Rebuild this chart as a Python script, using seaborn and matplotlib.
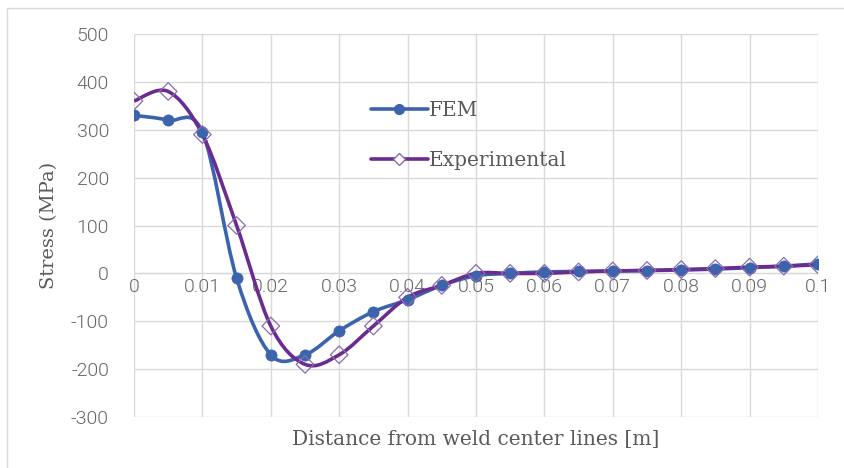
"""Stress profile: FEM vs experimental"""
import numpy as np
import pandas as pd
import matplotlib
matplotlib.use("Agg")
import matplotlib.pyplot as plt
from matplotlib.path import Path
from matplotlib.patches import PathPatch, Rectangle
from matplotlib.lines import Line2D
import seaborn as sns

# data
distance = [0.0, 0.005, 0.01, 0.015, 0.02, 0.025, 0.03, 0.035, 0.04, 0.045, 0.05,
            0.055, 0.06, 0.065, 0.07, 0.075, 0.08, 0.085, 0.09, 0.095, 0.1]
fem = [330, 320, 295, -10, -170, -170, -120, -80, -55, -25, -5,
       0, 3, 4, 5, 6, 7, 9, 12, 15, 20]
experimental = [360, 380, 290, 100, -110, -190, -170, -110, -50, -25, 0,
                0, 0, 3, 5, 6, 8, 10, 13, 15, 18]
x_ticklabels = ["0", "0.01", "0.02", "0.03", "0.04", "0.05", "0.06", "0.07", "0.08", "0.09", "0.1"]

C_FEM = "#3b64ad"
C_EXP = "#6b2c91"
C_EXP_MK = "#8a6bb0"
GRID = "#d9d9d9"
TICK = "#595959"


def smooth_path(x, y):
    # excel-style smoothed line: catmull-rom segments as cubic bezier
    pts = np.column_stack([x, y]).astype(float)
    ext = np.vstack([pts[0], pts, pts[-1]])
    verts = [pts[0]]
    codes = [Path.MOVETO]
    for i in range(1, len(ext) - 2):
        p0, p1, p2, p3 = ext[i - 1], ext[i], ext[i + 1], ext[i + 2]
        verts += [p1 + (p2 - p0) / 6, p2 - (p3 - p1) / 6, p2]
        codes += [Path.CURVE4] * 3
    return Path(verts, codes)


sns.set_style("white")
plt.rcParams["font.family"] = ["DejaVu Serif"]
plt.rcParams["axes.unicode_minus"] = False

fig = plt.figure(figsize=(8.44, 4.68), dpi=100)
ax = fig.add_axes([134 / 844, 1 - 417 / 468, 684 / 844, 383 / 468])

# outer chart border
fig.patches.append(Rectangle((7 / 844, -0.1), 2, 1 - 8 / 468 + 0.1, transform=fig.transFigure,
                             fill=False, edgecolor="#d9d9d9", lw=1))

df = pd.DataFrame({"distance": distance, "FEM": fem, "Experimental": experimental})

ax.add_patch(PathPatch(smooth_path(distance, fem), fill=False, edgecolor=C_FEM, lw=2.6, zorder=3))
ax.add_patch(PathPatch(smooth_path(distance, experimental), fill=False, edgecolor=C_EXP, lw=2.6, zorder=4))

sns.scatterplot(data=df, x="distance", y="FEM", ax=ax, marker="o", s=65, color=C_FEM,
                edgecolor=C_FEM, linewidth=0.5, zorder=5, legend=False)
sns.scatterplot(data=df, x="distance", y="Experimental", ax=ax, marker="D", s=80,
                facecolor="none", edgecolor=C_EXP_MK, linewidth=0.9,
                zorder=6, legend=False)

ax.set_xlim(0, 0.1)
ax.set_ylim(-300, 500)
ax.set_xticks(np.arange(0, 0.1001, 0.01))
ax.set_yticks(np.arange(-300, 501, 100))
ax.set_xticklabels(x_ticklabels)
ax.grid(True, color=GRID, lw=1)
ax.set_axisbelow(True)
for s in ["top", "right", "left"]:
    ax.spines[s].set_visible(False)
ax.spines["bottom"].set_position(("data", 0))
ax.spines["bottom"].set_color(GRID)
ax.tick_params(axis="both", length=0, colors=TICK, labelsize=14)
ax.tick_params(axis="y", pad=18)
ax.tick_params(axis="x", pad=3)
for lab in ax.get_xticklabels() + ax.get_yticklabels():
    lab.set_family(["Roboto", "Open Sans", "DejaVu Sans"])
    lab.set_fontweight(300)
    lab.set_color("#666666")

ax.set_xlabel("")
ax.set_ylabel("Stress (MPa)", fontsize=14, color=TICK, labelpad=9)
fig.text(476 / 844, 1 - 439 / 468, "Distance from weld center lines [m]", ha="center",
         va="center", fontsize=14.5, color=TICK)

handles = [
    Line2D([], [], color=C_FEM, lw=2.6, marker="o", markersize=7),
    Line2D([], [], color=C_EXP, lw=2.6, marker="D", markersize=6,
           markerfacecolor="white", markeredgecolor=C_EXP_MK),
]
ax.legend(handles, ["FEM", "Experimental"], loc="center left", bbox_to_anchor=(0.332, 0.735),
          frameon=False, fontsize=14.5, labelcolor=TICK, handlelength=2.8, handletextpad=0.05,
          labelspacing=1.5, borderpad=0)

fig.savefig("out.png", dpi=100)
